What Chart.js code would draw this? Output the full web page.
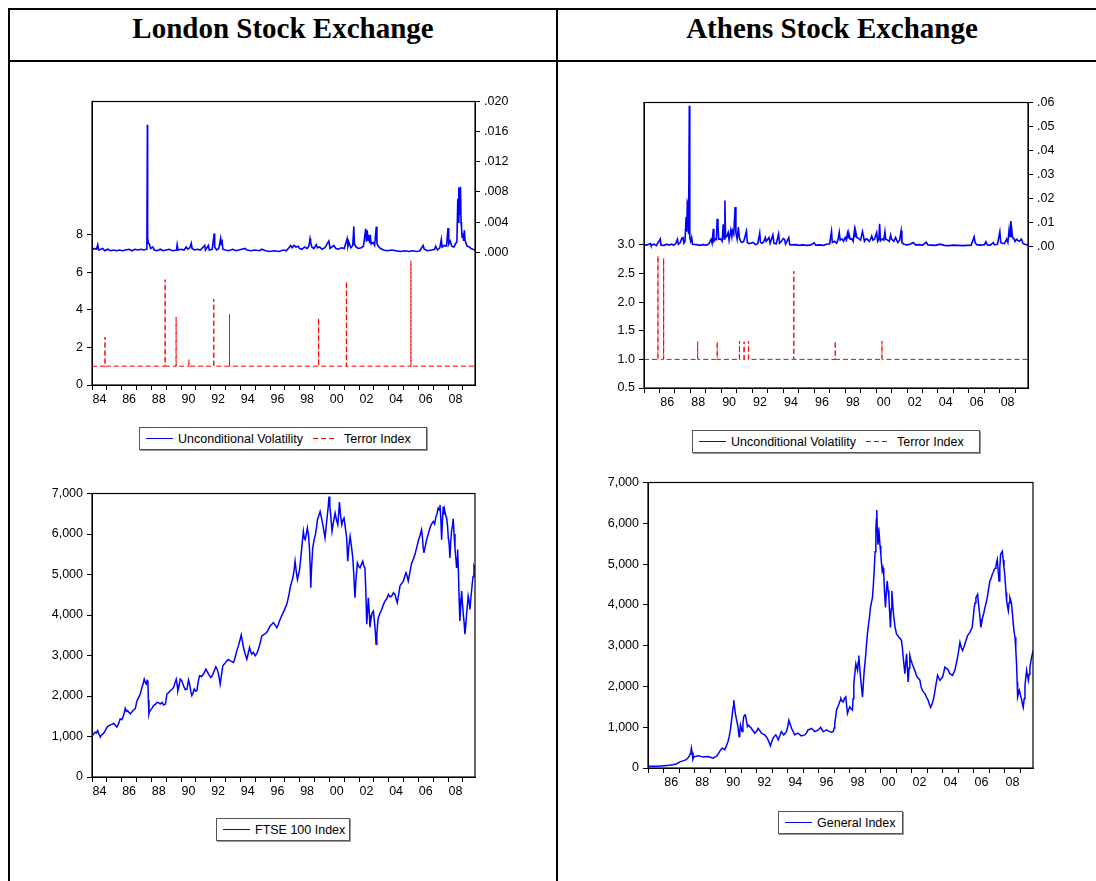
<!DOCTYPE html>
<html>
<head>
<meta charset="utf-8">
<script src="https://cdn.jsdelivr.net/npm/chart.js@4.4.1/dist/chart.umd.min.js"></script>
<style>
  body { margin: 0; background: #fff; width: 1096px; height: 881px; overflow: hidden; position: relative; }
  .rule { position: absolute; background: #000; }
  .title { position: absolute; top: 14px; font: bold 29px/29px "Liberation Serif", "Times New Roman", serif; text-align: center; color: #000; }
  canvas { position: absolute; }
  .legend { position: absolute; box-sizing: border-box; border: 1px solid #555; box-shadow: 1px 1px 0 #999;
            background: #fff; display: flex; align-items: center; padding-left: 6px;
            font: 12.5px "Liberation Sans", Arial, sans-serif; color: #000; white-space: nowrap; }
  .legend svg { display: block; margin-right: 5px; }
  .legend svg.dash { margin-left: 10px; margin-right: 8px; }
</style>
</head>
<body>
<div class="rule" style="left:8px;top:8px;width:1088px;height:2px"></div>
<div class="rule" style="left:8px;top:60px;width:1088px;height:2px"></div>
<div class="rule" style="left:8px;top:8px;width:2px;height:873px"></div>
<div class="rule" style="left:556px;top:8px;width:2px;height:873px"></div>
<div class="title" style="left:10px;width:546px">London Stock Exchange</div>
<div class="title" style="left:558px;width:548px">Athens Stock Exchange</div>

<div class="legend" style="left:139px;top:427px;width:288px;height:23px">
  <svg width="27" height="3"><line x1="0" y1="1.5" x2="27" y2="1.5" stroke="#0000ff" stroke-width="1"/></svg>Unconditional Volatility
  <svg class="dash" width="23" height="3"><line x1="0" y1="1.5" x2="23" y2="1.5" stroke="#ff0000" stroke-width="1" stroke-dasharray="5 3"/></svg>Terror Index</div>
<div class="legend" style="left:692px;top:430px;width:288px;height:23px">
  <svg width="27" height="3"><line x1="0" y1="1.5" x2="27" y2="1.5" stroke="#0000ff" stroke-width="1"/></svg>Unconditional Volatility
  <svg class="dash" width="23" height="3"><line x1="0" y1="1.5" x2="23" y2="1.5" stroke="#ff0000" stroke-width="1" stroke-dasharray="5 3"/></svg>Terror Index</div>
<div class="legend" style="left:216px;top:818px;width:134px;height:23px">
  <svg width="27" height="3"><line x1="0" y1="1.5" x2="27" y2="1.5" stroke="#0000ff" stroke-width="1"/></svg>FTSE 100 Index</div>
<div class="legend" style="left:778px;top:811px;width:125px;height:23px">
  <svg width="27" height="3"><line x1="0" y1="1.5" x2="27" y2="1.5" stroke="#0000ff" stroke-width="1"/></svg>General Index</div>

<script>
// Year ticks (tick marks every year, labels on even years)
const lonYears = [1984,1985,1986,1987,1988,1989,1990,1991,1992,1993,1994,1995,1996,1997,1998,1999,2000,2001,2002,2003,2004,2005,2006,2007,2008,2009];
const athYears = [1985,1986,1987,1988,1989,1990,1991,1992,1993,1994,1995,1996,1997,1998,1999,2000,2001,2002,2003,2004,2005,2006,2007,2008,2009];
const lonStart = 1984.0, athStart = 1985.0, seriesEnd = 2009.82;

// Axis tick values
const lonTerrorTicks = [0, 2, 4, 6, 8];
const lonVolTicks = [0, .004, .008, .012, .016, .020];
const athTerrorTicks = [0.5, 1.0, 1.5, 2.0, 2.5, 3.0];
const athVolTicks = [0, .01, .02, .03, .04, .05, .06];
const indexTicks = [0, 1000, 2000, 3000, 4000, 5000, 6000, 7000];

// Terror index: baseline and spikes [year], [value]
const terrorBase = 1.0;
const lonTerrorYears = [1984.88, 1988.93, 1989.67, 1990.53, 1992.21, 1993.27, 1999.28, 2001.15, 2005.50];
const lonTerrorValues = [2.55, 5.6, 3.6, 1.35, 4.56, 3.75, 3.55, 5.51, 6.6];
const athTerrorYears = [1985.90, 1986.27, 1988.47, 1989.73, 1991.17, 1991.47, 1991.75, 1994.68, 1997.36, 2000.38];
const athTerrorValues = [2.81, 2.77, 1.31, 1.31, 1.32, 1.31, 1.32, 2.54, 1.32, 1.32];

// Unconditional volatility [year, value]
const lonVol = [
  [1984.00,.0003],[1984.15,.0005],[1984.30,.0004],[1984.39,.0010],[1984.45,.0003],[1984.60,.0004],[1984.72,.0005],[1984.85,.0002],
  [1985.06,.0004],[1985.25,.0002],[1985.45,.0003],[1985.65,.0002],[1985.85,.0003],[1986.05,.0002],[1986.25,.0003],[1986.50,.0004],
  [1986.70,.0002],[1986.90,.0004],[1987.10,.0003],[1987.30,.0004],[1987.50,.0003],[1987.70,.0004],[1987.735,.0169],[1987.75,.0019],
  [1987.80,.0012],[1987.86,.0011],[1987.95,.0005],[1988.10,.0007],[1988.20,.0003],[1988.40,.0002],[1988.60,.0004],[1988.80,.0002],
  [1989.00,.0003],[1989.20,.0004],[1989.45,.0002],[1989.70,.0003],[1989.74,.0010],[1989.80,.0003],[1990.00,.0004],[1990.20,.0003],
  [1990.35,.0007],[1990.45,.0004],[1990.60,.0006],[1990.69,.0012],[1990.75,.0005],[1990.90,.0003],[1991.10,.0004],[1991.30,.0003],
  [1991.60,.0009],[1991.65,.0003],[1991.85,.0009],[1991.90,.0003],[1992.10,.0004],[1992.24,.0025],[1992.27,.0007],[1992.40,.0003],
  [1992.55,.0005],[1992.67,.0018],[1992.72,.0010],[1992.76,.0017],[1992.82,.0004],[1993.00,.0003],[1993.20,.0002],[1993.50,.0004],
  [1993.70,.0002],[1993.90,.0003],[1994.10,.0004],[1994.30,.0005],[1994.45,.0003],[1994.70,.0002],[1995.00,.0003],[1995.30,.0002],
  [1995.45,.0004],[1995.70,.0002],[1996.00,.0001],[1996.30,.0002],[1996.60,.0001],[1996.90,.0003],[1997.10,.0002],[1997.40,.0009],
  [1997.50,.0006],[1997.62,.0009],[1997.75,.0007],[1997.90,.0008],[1998.00,.0005],[1998.15,.0004],[1998.33,.0007],[1998.50,.0005],
  [1998.62,.0008],[1998.70,.0018],[1998.74,.0013],[1998.82,.0007],[1998.95,.0005],[1999.12,.0010],[1999.20,.0006],[1999.35,.0007],
  [1999.50,.0004],[1999.70,.0006],[1999.97,.0015],[2000.05,.0005],[2000.30,.0009],[2000.45,.0005],[2000.60,.0004],[2000.80,.0006],
  [2001.00,.0005],[2001.20,.0018],[2001.25,.0008],[2001.32,.0013],[2001.45,.0006],[2001.58,.0009],[2001.65,.0034],[2001.69,.0011],
  [2001.80,.0007],[2001.95,.0005],[2002.15,.0006],[2002.30,.0008],[2002.45,.0031],[2002.50,.0014],[2002.55,.0029],[2002.62,.0016],
  [2002.67,.0023],[2002.72,.0012],[2002.76,.0023],[2002.82,.0011],[2002.95,.0013],[2003.05,.0009],[2003.17,.0034],[2003.21,.0012],
  [2003.30,.0008],[2003.45,.0005],[2003.65,.0003],[2003.90,.0002],[2004.20,.0003],[2004.50,.0002],[2004.80,.0001],[2005.10,.0002],
  [2005.40,.0001],[2005.60,.0002],[2005.90,.0001],[2006.10,.0002],[2006.32,.0009],[2006.40,.0004],[2006.60,.0002],[2006.90,.0003],
  [2007.10,.0004],[2007.17,.0008],[2007.30,.0003],[2007.45,.0006],[2007.55,.0017],[2007.60,.0007],[2007.75,.0009],[2007.90,.0008],
  [2008.00,.0032],[2008.05,.0011],[2008.15,.0015],[2008.25,.0008],[2008.40,.0007],[2008.50,.0011],[2008.60,.0014],[2008.66,.0071],
  [2008.70,.0040],[2008.73,.0086],[2008.77,.0050],[2008.80,.0077],[2008.82,.0055],[2008.84,.0087],[2008.88,.0040],[2008.91,.0033],
  [2008.95,.0020],[2009.00,.0025],[2009.05,.0015],[2009.10,.0029],[2009.15,.0016],[2009.22,.0011],[2009.30,.0008],[2009.45,.0007],
  [2009.55,.0005],[2009.67,.0004],[2009.82,.0003]
];
const athVol = [
  [1985.00,.0003],[1985.20,.0005],[1985.40,.0011],[1985.45,.0003],[1985.65,.0008],[1985.80,.0002],[1986.05,.0030],[1986.10,.0004],
  [1986.30,.0003],[1986.50,.0008],[1986.60,.0004],[1986.80,.0008],[1986.90,.0003],[1987.05,.0010],[1987.16,.0029],[1987.22,.0008],
  [1987.35,.0015],[1987.44,.0033],[1987.52,.0036],[1987.58,.0012],[1987.65,.0020],[1987.72,.0122],[1987.76,.0060],[1987.80,.0184],
  [1987.84,.0175],[1987.88,.0050],[1987.93,.0588],[1987.96,.0036],[1988.02,.0020],[1988.08,.0036],[1988.14,.0008],[1988.40,.0006],
  [1988.60,.0003],[1988.83,.0006],[1989.05,.0004],[1989.20,.0010],[1989.33,.0028],[1989.40,.0012],[1989.48,.0072],[1989.52,.0020],
  [1989.62,.0030],[1989.68,.0028],[1989.73,.0114],[1989.78,.0085],[1989.83,.0029],[1989.95,.0030],[1990.05,.0020],[1990.12,.0091],
  [1990.18,.0030],[1990.23,.0191],[1990.27,.0036],[1990.35,.0040],[1990.44,.0057],[1990.50,.0025],[1990.61,.0067],[1990.68,.0040],
  [1990.72,.0064],[1990.80,.0050],[1990.89,.0164],[1990.94,.0057],[1991.02,.0030],[1991.10,.0080],[1991.16,.0036],[1991.25,.0020],
  [1991.34,.0015],[1991.45,.0020],[1991.62,.0062],[1991.68,.0015],[1991.80,.0010],[1992.05,.0015],[1992.20,.0006],[1992.35,.0010],
  [1992.48,.0055],[1992.53,.0015],[1992.65,.0012],[1992.75,.0020],[1992.84,.0036],[1992.90,.0020],[1993.00,.0029],[1993.08,.0036],
  [1993.15,.0012],[1993.33,.0047],[1993.40,.0012],[1993.55,.0010],[1993.70,.0051],[1993.76,.0012],[1993.88,.0020],[1994.00,.0032],
  [1994.08,.0029],[1994.15,.0008],[1994.36,.0035],[1994.42,.0006],[1994.60,.0005],[1994.80,.0006],[1995.00,.0003],[1995.25,.0005],
  [1995.50,.0003],[1995.75,.0004],[1996.00,.0014],[1996.10,.0004],[1996.35,.0005],[1996.60,.0003],[1996.80,.0008],[1997.00,.0010],
  [1997.12,.0061],[1997.17,.0015],[1997.30,.0020],[1997.45,.0012],[1997.55,.0030],[1997.62,.0058],[1997.68,.0025],[1997.80,.0030],
  [1997.90,.0020],[1998.00,.0036],[1998.08,.0025],[1998.15,.0053],[1998.20,.0035],[1998.25,.0050],[1998.33,.0029],[1998.45,.0030],
  [1998.52,.0020],[1998.60,.0064],[1998.64,.0040],[1998.68,.0061],[1998.76,.0036],[1998.90,.0030],[1999.00,.0025],[1999.12,.0061],
  [1999.18,.0043],[1999.25,.0020],[1999.35,.0030],[1999.44,.0029],[1999.55,.0020],[1999.65,.0030],[1999.72,.0042],[1999.80,.0025],
  [1999.90,.0030],[2000.04,.0057],[2000.10,.0020],[2000.18,.0030],[2000.23,.0093],[2000.28,.0022],[2000.40,.0030],[2000.50,.0025],
  [2000.57,.0060],[2000.62,.0029],[2000.75,.0025],[2000.85,.0020],[2000.94,.0046],[2001.00,.0029],[2001.15,.0020],[2001.26,.0036],
  [2001.40,.0015],[2001.52,.0025],[2001.62,.0064],[2001.67,.0015],[2001.80,.0008],[2002.00,.0005],[2002.20,.0008],[2002.40,.0015],
  [2002.55,.0005],[2002.80,.0006],[2003.00,.0004],[2003.25,.0016],[2003.35,.0005],[2003.60,.0004],[2003.85,.0003],[2004.15,.0008],
  [2004.40,.0003],[2004.70,.0002],[2005.00,.0004],[2005.30,.0003],[2005.60,.0002],[2005.90,.0003],[2006.15,.0004],[2006.34,.0039],
  [2006.40,.0015],[2006.50,.0006],[2006.75,.0004],[2007.00,.0006],[2007.10,.0018],[2007.20,.0005],[2007.40,.0004],[2007.58,.0015],
  [2007.65,.0005],[2007.85,.0008],[2008.00,.0060],[2008.06,.0015],[2008.15,.0012],[2008.30,.0010],[2008.44,.0029],[2008.52,.0015],
  [2008.60,.0070],[2008.66,.0040],[2008.71,.0105],[2008.76,.0078],[2008.82,.0035],[2008.90,.0032],[2008.98,.0020],[2009.08,.0029],
  [2009.15,.0025],[2009.25,.0020],[2009.40,.0029],[2009.50,.0010],[2009.62,.0008],[2009.82,.0004]
];

// Stock indices [year, level]
const lonFtse = [
  [1984.00,1010],[1984.10,1060],[1984.22,1107],[1984.30,1090],[1984.38,1148],[1984.47,1060],[1984.56,985],[1984.65,1040],
  [1984.79,1082],[1984.90,1150],[1985.01,1230],[1985.12,1260],[1985.23,1287],[1985.35,1300],[1985.46,1328],[1985.57,1280],
  [1985.68,1230],[1985.80,1330],[1985.90,1434],[1986.02,1420],[1986.13,1516],[1986.24,1697],[1986.32,1620],[1986.40,1639],
  [1986.50,1590],[1986.58,1557],[1986.70,1610],[1986.80,1656],[1986.92,1690],[1987.03,1885],[1987.14,1960],[1987.25,2049],
  [1987.37,2213],[1987.45,2300],[1987.52,2418],[1987.60,2330],[1987.66,2295],[1987.72,2380],[1987.77,2352],[1987.80,1900],
  [1987.84,1557],[1987.88,1620],[1987.93,1639],[1988.05,1700],[1988.15,1762],[1988.27,1790],[1988.38,1844],[1988.50,1830],
  [1988.60,1803],[1988.72,1840],[1988.83,1779],[1988.95,1800],[1989.05,2049],[1989.16,2080],[1989.27,2131],[1989.38,2160],
  [1989.50,2213],[1989.60,2330],[1989.68,2418],[1989.74,2280],[1989.79,2131],[1989.87,2250],[1989.95,2418],[1990.05,2380],
  [1990.17,2254],[1990.28,2160],[1990.40,2172],[1990.51,2393],[1990.60,2250],[1990.67,2100],[1990.73,2008],[1990.80,2060],
  [1990.89,2172],[1990.98,2120],[1991.07,2131],[1991.16,2350],[1991.25,2500],[1991.38,2480],[1991.52,2541],[1991.60,2600],
  [1991.68,2664],[1991.77,2600],[1991.86,2541],[1992.01,2459],[1992.10,2500],[1992.19,2582],[1992.27,2650],[1992.35,2721],
  [1992.45,2650],[1992.53,2541],[1992.60,2400],[1992.64,2295],[1992.72,2500],[1992.82,2746],[1992.95,2800],[1993.09,2869],
  [1993.20,2900],[1993.32,2869],[1993.43,2850],[1993.54,2828],[1993.65,2950],[1993.76,3115],[1993.88,3250],[1993.99,3402],
  [1994.06,3508],[1994.14,3350],[1994.21,3197],[1994.32,3050],[1994.44,2910],[1994.53,3050],[1994.62,3197],[1994.70,3100],
  [1994.77,3033],[1994.88,3080],[1995.00,2992],[1995.11,3050],[1995.22,3156],[1995.33,3300],[1995.45,3484],[1995.60,3520],
  [1995.78,3566],[1995.90,3650],[1996.01,3730],[1996.12,3770],[1996.23,3812],[1996.35,3750],[1996.46,3689],[1996.55,3760],
  [1996.64,3853],[1996.75,3950],[1996.86,4033],[1997.00,4150],[1997.13,4262],[1997.25,4450],[1997.36,4672],[1997.45,4800],
  [1997.54,4918],[1997.62,5100],[1997.69,5328],[1997.76,5100],[1997.85,4877],[1997.92,5000],[1997.98,5082],[1998.06,5350],
  [1998.14,5656],[1998.25,6066],[1998.31,5900],[1998.37,5861],[1998.45,6000],[1998.52,6148],[1998.60,5950],[1998.66,5656],
  [1998.71,5200],[1998.75,4672],[1998.80,5150],[1998.88,5656],[1998.97,5850],[1999.06,5984],[1999.13,6150],[1999.20,6353],
  [1999.29,6450],[1999.38,6558],[1999.47,6400],[1999.56,6230],[1999.64,6050],[1999.71,5902],[1999.79,6200],[1999.87,6476],
  [1999.93,6700],[1999.98,6926],[2000.03,6700],[2000.09,6476],[2000.14,6250],[2000.18,6066],[2000.28,6300],[2000.39,6517],
  [2000.48,6350],[2000.57,6230],[2000.63,6500],[2000.68,6787],[2000.76,6450],[2000.84,6230],[2000.92,6350],[2000.99,6394],
  [2001.08,6150],[2001.17,5902],[2001.24,5328],[2001.32,5700],[2001.40,5943],[2001.49,5700],[2001.58,5410],[2001.65,5000],
  [2001.70,4600],[2001.73,4426],[2001.80,4900],[2001.89,5287],[2001.98,5200],[2002.07,5164],[2002.16,5250],[2002.25,5328],
  [2002.33,5200],[2002.40,5164],[2002.45,4700],[2002.49,4200],[2002.52,3771],[2002.58,4100],[2002.63,4426],[2002.70,4000],
  [2002.74,3700],[2002.79,3853],[2002.88,4050],[2002.97,4098],[2003.05,3800],[2003.10,3600],[2003.15,3279],[2003.20,3500],
  [2003.25,3750],[2003.30,3935],[2003.42,4050],[2003.53,4139],[2003.64,4250],[2003.75,4344],[2003.87,4400],[2003.98,4508],
  [2004.09,4450],[2004.20,4467],[2004.32,4550],[2004.43,4508],[2004.50,4400],[2004.58,4303],[2004.67,4500],[2004.76,4713],
  [2004.88,4780],[2004.99,4836],[2005.08,4950],[2005.17,5041],[2005.25,4950],[2005.32,4836],[2005.43,5050],[2005.55,5287],
  [2005.66,5380],[2005.77,5492],[2005.88,5650],[2005.99,5820],[2006.10,5950],[2006.22,6107],[2006.28,5900],[2006.33,5650],
  [2006.38,5533],[2006.47,5700],[2006.56,5861],[2006.67,6000],[2006.78,6148],[2006.90,6250],[2007.01,6312],[2007.10,6250],
  [2007.19,6435],[2007.26,6500],[2007.34,6640],[2007.40,6600],[2007.46,6722],[2007.52,6350],[2007.57,5861],[2007.62,6300],
  [2007.68,6681],[2007.74,6500],[2007.79,6558],[2007.85,6450],[2007.91,6394],[2007.97,6200],[2008.02,5902],[2008.08,5750],
  [2008.13,5410],[2008.18,5800],[2008.24,6066],[2008.30,6200],[2008.35,6377],[2008.41,6000],[2008.47,5656],[2008.53,5400],
  [2008.58,5164],[2008.62,5400],[2008.65,5615],[2008.70,5100],[2008.75,4400],[2008.80,3853],[2008.86,4250],[2008.92,4590],
  [2008.97,4300],[2009.03,4016],[2009.09,3800],[2009.14,3525],[2009.20,3750],[2009.25,4016],[2009.31,4250],[2009.36,4467],
  [2009.42,4350],[2009.48,4139],[2009.55,4450],[2009.63,4754],[2009.69,4950],[2009.75,5205],[2009.81,5150]
];
const athGen = [
  [1985.00,40],[1985.30,42],[1985.54,40],[1985.80,48],[1986.08,57],[1986.35,65],[1986.61,81],[1986.80,100],[1986.94,122],
  [1987.05,150],[1987.15,162],[1987.30,180],[1987.47,203],[1987.58,250],[1987.65,284],[1987.72,350],[1987.77,420],[1987.80,487],
  [1987.84,380],[1987.90,219],[1987.95,270],[1988.01,284],[1988.12,290],[1988.23,300],[1988.40,285],[1988.55,268],[1988.70,275],
  [1988.87,284],[1989.03,265],[1989.19,243],[1989.30,265],[1989.41,284],[1989.52,340],[1989.62,406],[1989.72,460],[1989.80,487],
  [1989.88,470],[1989.95,446],[1990.05,540],[1990.16,649],[1990.24,780],[1990.31,933],[1990.38,1150],[1990.44,1338],[1990.49,1500],
  [1990.53,1663],[1990.58,1500],[1990.63,1338],[1990.70,1200],[1990.76,1095],[1990.82,950],[1990.87,771],[1990.92,900],[1990.96,1054],
  [1991.01,980],[1991.06,892],[1991.12,1100],[1991.17,1257],[1991.23,1300],[1991.28,1298],[1991.35,1150],[1991.41,1014],[1991.48,1050],
  [1991.56,1014],[1991.65,980],[1991.73,933],[1991.80,900],[1991.88,852],[1992.00,900],[1992.10,973],[1992.20,920],[1992.31,852],
  [1992.42,830],[1992.53,811],[1992.64,760],[1992.74,689],[1992.82,620],[1992.89,543],[1992.97,640],[1993.06,730],[1993.15,780],
  [1993.24,811],[1993.32,760],[1993.39,689],[1993.50,790],[1993.60,892],[1993.68,850],[1993.75,811],[1993.84,850],[1993.92,892],
  [1994.00,1000],[1994.08,1176],[1994.16,1080],[1994.25,973],[1994.35,900],[1994.46,811],[1994.57,840],[1994.68,852],[1994.78,820],
  [1994.89,787],[1995.00,800],[1995.11,811],[1995.22,860],[1995.32,933],[1995.43,950],[1995.54,973],[1995.65,930],[1995.75,892],
  [1995.86,910],[1995.97,933],[1996.05,960],[1996.12,998],[1996.20,950],[1996.29,892],[1996.40,910],[1996.51,933],[1996.62,910],
  [1996.72,892],[1996.83,880],[1996.94,892],[1997.00,980],[1997.04,1095],[1997.10,1250],[1997.15,1419],[1997.24,1500],[1997.32,1582],
  [1997.38,1650],[1997.43,1703],[1997.50,1650],[1997.58,1622],[1997.66,1700],[1997.75,1744],[1997.80,1550],[1997.86,1338],[1997.93,1420],
  [1998.01,1501],[1998.10,1450],[1998.18,1419],[1998.22,1700],[1998.27,2068],[1998.33,2300],[1998.40,2555],[1998.45,2480],[1998.51,2393],
  [1998.55,2600],[1998.59,2758],[1998.64,2500],[1998.70,2230],[1998.76,2000],[1998.83,1744],[1998.88,2050],[1998.94,2393],[1999.02,2700],
  [1999.09,3042],[1999.15,3300],[1999.22,3528],[1999.28,3700],[1999.34,3934],[1999.40,4050],[1999.47,4177],[1999.53,4500],[1999.58,4826],
  [1999.64,5300],[1999.69,5799],[1999.72,6100],[1999.75,6327],[1999.78,5900],[1999.82,5475],[1999.86,5650],[1999.90,5759],[1999.96,5450],
  [2000.01,5232],[2000.06,5000],[2000.10,4826],[2000.15,4900],[2000.20,4745],[2000.25,4300],[2000.31,3934],[2000.36,4300],[2000.42,4583],
  [2000.48,4350],[2000.53,4177],[2000.58,3800],[2000.63,3447],[2000.68,3900],[2000.72,4339],[2000.78,4000],[2000.85,3690],[2000.93,3450],
  [2001.02,3285],[2001.10,3250],[2001.17,3204],[2001.25,3180],[2001.34,3123],[2001.40,2950],[2001.45,2717],[2001.51,2500],[2001.56,2312],
  [2001.62,2600],[2001.67,2798],[2001.72,2450],[2001.77,2109],[2001.83,2450],[2001.88,2758],[2001.95,2650],[2002.03,2555],[2002.12,2470],
  [2002.20,2393],[2002.28,2300],[2002.35,2230],[2002.44,2200],[2002.53,2149],[2002.60,2000],[2002.68,1906],[2002.77,1860],[2002.85,1825],
  [2002.95,1740],[2003.06,1663],[2003.14,1560],[2003.22,1484],[2003.30,1560],[2003.39,1663],[2003.47,1820],[2003.54,1987],[2003.61,2150],
  [2003.67,2271],[2003.75,2200],[2003.82,2149],[2003.90,2190],[2003.99,2230],[2004.07,2350],[2004.14,2474],[2004.22,2450],[2004.29,2433],
  [2004.38,2380],[2004.46,2312],[2004.55,2290],[2004.63,2271],[2004.70,2330],[2004.78,2393],[2004.87,2550],[2004.96,2717],[2005.04,2900],
  [2005.11,3082],[2005.20,2950],[2005.28,2879],[2005.36,2960],[2005.43,3042],[2005.52,3150],[2005.60,3244],[2005.68,3290],[2005.75,3326],
  [2005.83,3390],[2005.90,3447],[2005.97,3700],[2006.03,3934],[2006.09,4050],[2006.14,4177],[2006.20,4220],[2006.25,4258],[2006.30,4050],
  [2006.35,3893],[2006.41,3650],[2006.46,3447],[2006.52,3580],[2006.57,3690],[2006.65,3800],[2006.72,3934],[2006.80,4050],[2006.87,4177],
  [2006.96,4400],[2007.04,4583],[2007.12,4650],[2007.19,4745],[2007.26,4800],[2007.32,4867],[2007.38,4900],[2007.43,4948],[2007.48,5050],
  [2007.52,5110],[2007.57,4850],[2007.63,4583],[2007.68,4900],[2007.73,5232],[2007.79,5280],[2007.84,5313],[2007.90,5100],[2007.95,4907],
  [2008.00,4750],[2008.03,4583],[2008.08,4300],[2008.12,4096],[2008.18,3950],[2008.23,3853],[2008.28,4050],[2008.33,4177],[2008.39,4100],
  [2008.44,4015],[2008.50,3750],[2008.55,3528],[2008.60,3350],[2008.66,3204],[2008.71,2900],[2008.76,2555],[2008.80,2100],[2008.83,1744],
  [2008.88,1820],[2008.94,1906],[2009.02,1780],[2009.09,1663],[2009.14,1560],[2009.19,1484],[2009.25,1700],[2009.30,1987],[2009.35,2200],
  [2009.41,2393],[2009.47,2250],[2009.52,2149],[2009.57,2300],[2009.62,2474],[2009.68,2600],[2009.73,2717],[2009.78,2800],[2009.82,2879]
];

const FONT = "'Liberation Sans', Arial, sans-serif";
const BLUE = '#0000ff';
const RED = '#ff0000';
const PAD_L = 50, PAD_R = 50, PAD_T = 10, PAD_B = 30;

// Plot frame (EViews draws a closed box round the plot)
const framePlugin = {
    id: 'frame',
    afterDraw(chart) {
        const { ctx, chartArea: a } = chart;
        ctx.save();
        ctx.strokeStyle = '#000';
        ctx.lineWidth = 1.2;
        ctx.strokeRect(a.left, a.top, a.right - a.left, a.bottom - a.top);
        ctx.restore();
    }
};

function makeCanvas(area) {
    const c = document.createElement('canvas');
    const w = area.right - area.left + PAD_L + PAD_R;
    const h = area.bottom - area.top + PAD_T + PAD_B;
    c.width = w;
    c.height = h;
    c.style.width = w + 'px';
    c.style.height = h + 'px';
    c.style.left = (area.left - PAD_L) + 'px';
    c.style.top = (area.top - PAD_T) + 'px';
    document.body.appendChild(c);
    return c;
}

const toXY = rows => rows.map(([x, y]) => ({ x, y }));

function spikeSeries(years, values, base, start, end) {
    const pts = [{ x: start, y: base }];
    years.forEach((yr, i) => {
        pts.push({ x: yr - 0.004, y: base }, { x: yr, y: values[i] }, { x: yr + 0.004, y: base });
    });
    pts.push({ x: end, y: base });
    return pts;
}

function xAxis(years, start, end, area) {
    const halfYear = (area.right - area.left) / (end - start) / 2;
    return {
        type: 'linear', position: 'bottom', min: start, max: end,
        afterBuildTicks: a => { a.ticks = years.map(v => ({ value: v })); },
        afterFit: s => { s.height = PAD_B; },
        grid: { drawOnChartArea: false, drawTicks: true, tickLength: 5, color: '#000' },
        border: { display: true, color: '#000', width: 1 },
        ticks: {
            autoSkip: false, maxRotation: 0, padding: 2, labelOffset: halfYear,
            color: '#000', font: { size: 12.5, family: FONT },
            callback: v => (v % 2 === 0 ? String(v).slice(2) : '')
        }
    };
}

function yAxis(pos, min, max, tickValues, fmt) {
    return {
        type: 'linear', position: pos, min, max,
        afterBuildTicks: a => { a.ticks = tickValues.map(v => ({ value: v })); },
        afterFit: s => { s.width = pos === 'left' ? PAD_L : PAD_R; },
        grid: { drawOnChartArea: false, drawTicks: true, tickLength: 5, color: '#000' },
        border: { display: true, color: '#000', width: 1 },
        ticks: { padding: 4, color: '#000', font: { size: 12.5, family: FONT }, callback: fmt }
    };
}

const lineStyle = { pointRadius: 0, tension: 0, borderWidth: 1, fill: false };
const baseOptions = (scales, padRight) => ({
    responsive: false, animation: false, parsing: true,
    layout: { padding: { top: PAD_T, right: padRight, left: 0, bottom: 0 } },
    plugins: { legend: { display: false }, tooltip: { enabled: false } },
    scales
});

const fmtDec = d => v => v.toFixed(d).replace(/^0/, '');
const fmtThousands = v => v.toLocaleString('en-US');

// London: volatility and terror index
const areaA = { left: 92, top: 100, right: 475, bottom: 385 };
new Chart(makeCanvas(areaA), {
    type: 'line',
    data: { datasets: [
        { ...lineStyle, data: spikeSeries(lonTerrorYears, lonTerrorValues, terrorBase, lonStart, seriesEnd),
          borderColor: RED, borderDash: [5, 3], yAxisID: 'y' },
        { ...lineStyle, data: toXY(lonVol), borderColor: BLUE, borderWidth: 1.6, yAxisID: 'y2' }
    ] },
    options: baseOptions({
        x: xAxis(lonYears, lonStart, seriesEnd, areaA),
        y: yAxis('left', 0, 15.07, lonTerrorTicks, v => String(v)),
        y2: yAxis('right', -0.01761, 0.020, lonVolTicks, fmtDec(3))
    }, 0),
    plugins: [framePlugin]
});

// Athens: volatility and terror index
const areaB = { left: 644, top: 101, right: 1028, bottom: 388 };
new Chart(makeCanvas(areaB), {
    type: 'line',
    data: { datasets: [
        { ...lineStyle, data: spikeSeries(athTerrorYears, athTerrorValues, terrorBase, athStart, seriesEnd),
          borderColor: RED, borderDash: [5, 3], yAxisID: 'y' },
        { ...lineStyle, data: toXY(athVol), borderColor: BLUE, borderWidth: 1.6, yAxisID: 'y2' }
    ] },
    options: baseOptions({
        x: xAxis(athYears, athStart, seriesEnd, areaB),
        y: yAxis('left', 0.5, 5.49, athTerrorTicks, v => v.toFixed(1)),
        y2: yAxis('right', -0.0595, 0.0602, athVolTicks, fmtDec(2))
    }, 0),
    plugins: [framePlugin]
});

// London: FTSE 100
const areaC = { left: 92, top: 492, right: 475, bottom: 777 };
new Chart(makeCanvas(areaC), {
    type: 'line',
    data: { datasets: [{ ...lineStyle, data: toXY(lonFtse), borderColor: BLUE, borderWidth: 1.5 }] },
    options: baseOptions({
        x: xAxis(lonYears, lonStart, seriesEnd, areaC),
        y: yAxis('left', 0, 7000, indexTicks, fmtThousands)
    }, PAD_R),
    plugins: [framePlugin]
});

// Athens: General Index
const areaD = { left: 648, top: 481, right: 1033, bottom: 768 };
new Chart(makeCanvas(areaD), {
    type: 'line',
    data: { datasets: [{ ...lineStyle, data: toXY(athGen), borderColor: BLUE, borderWidth: 1.5 }] },
    options: baseOptions({
        x: xAxis(athYears, athStart, seriesEnd, areaD),
        y: yAxis('left', 0, 7000, indexTicks, fmtThousands)
    }, PAD_R),
    plugins: [framePlugin]
});
</script>
</body>
</html>
